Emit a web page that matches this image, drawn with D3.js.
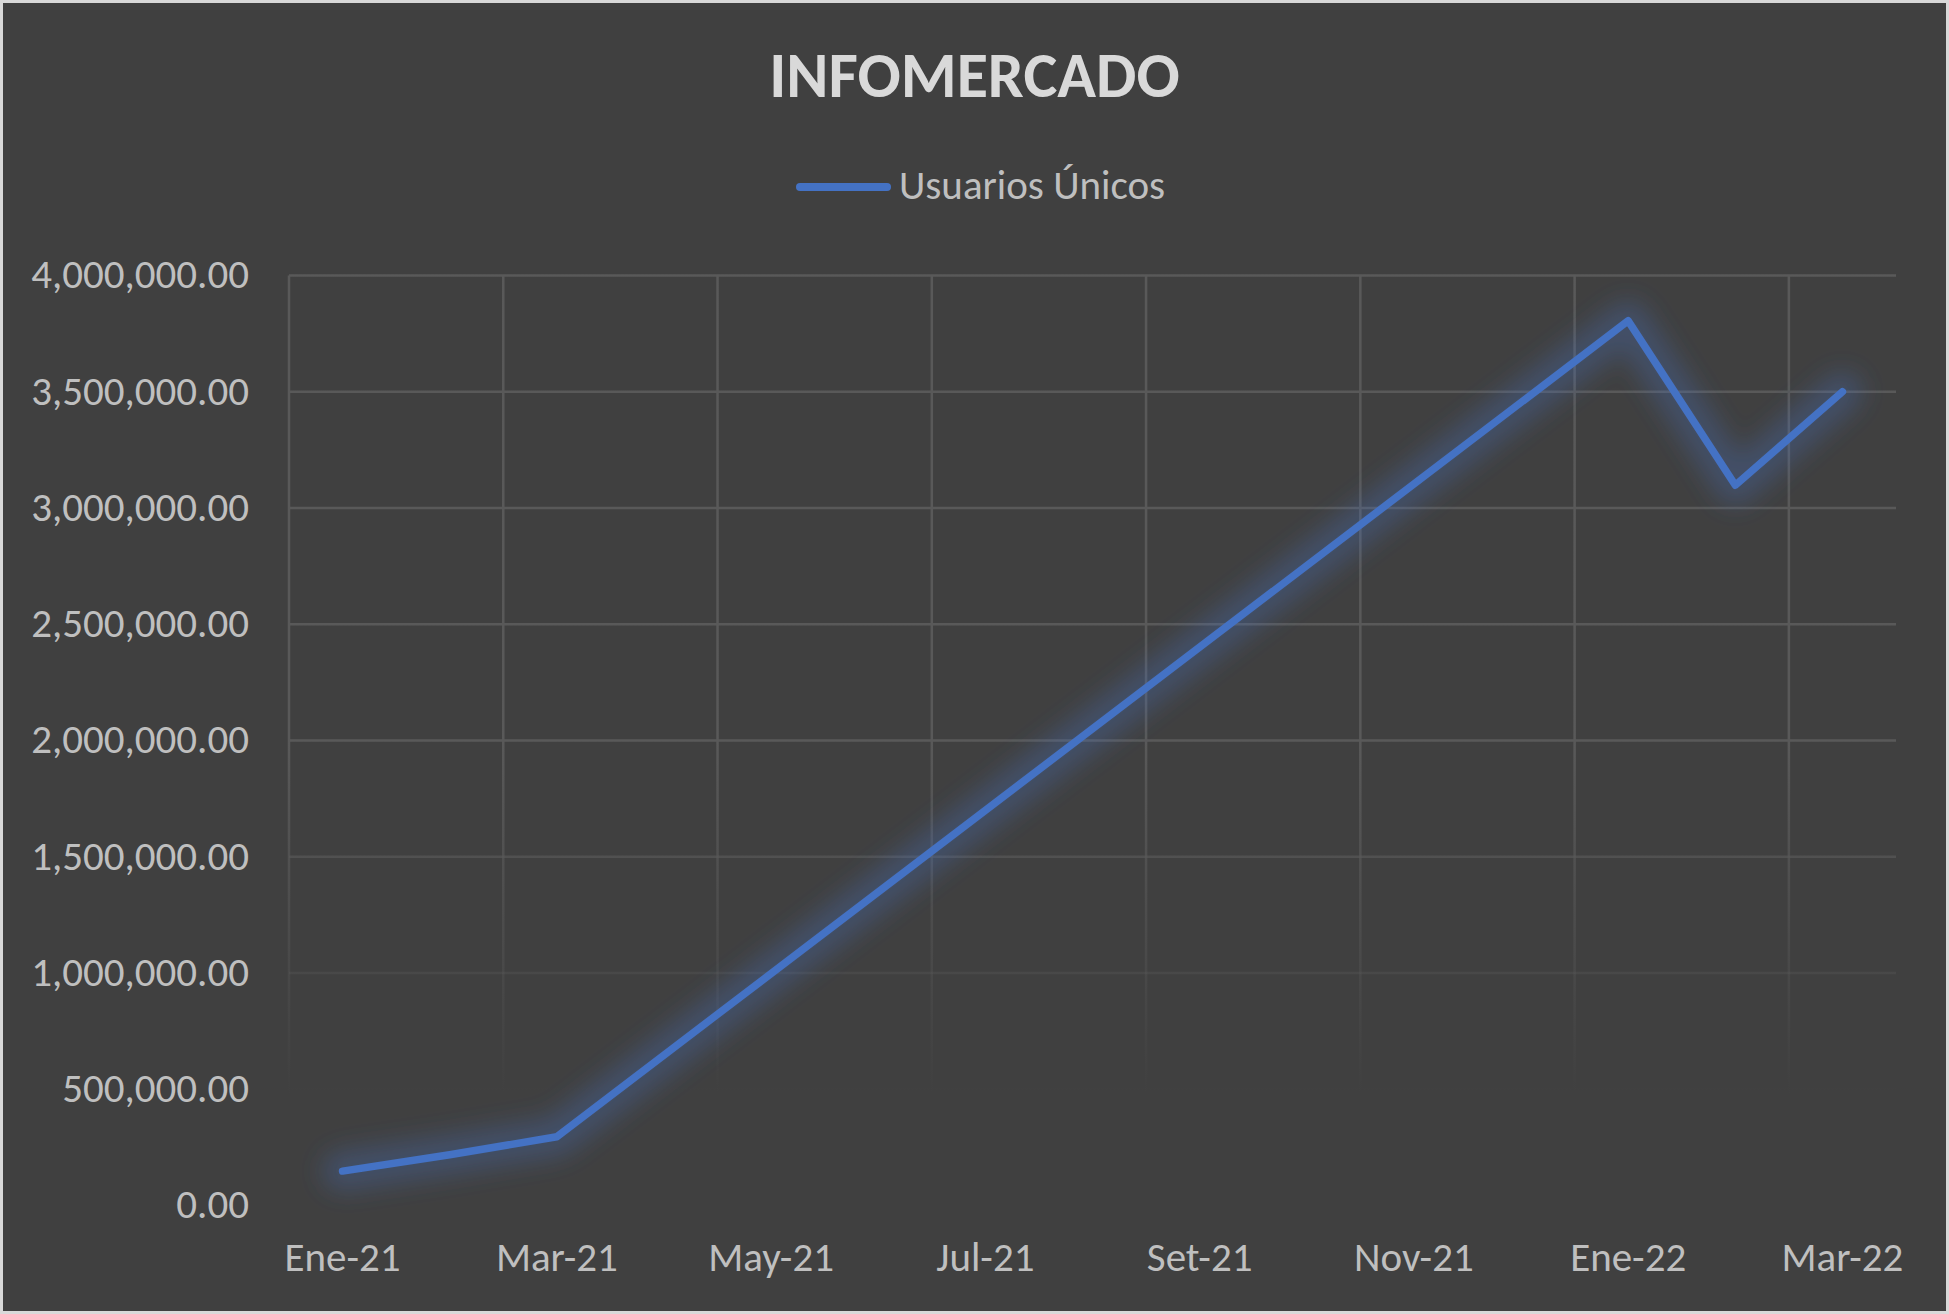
<!DOCTYPE html>
<html>
<head>
<meta charset="utf-8">
<script src="https://cdn.jsdelivr.net/npm/d3@7"></script>
<style>
    html, body { margin: 0; padding: 0; background: #d9d9d9; }
    svg { display: block; }
    text { font-family: Carlito, Calibri, Lato, "Open Sans", sans-serif; }
</style>
</head>
<body>
<svg id="chart" width="1949" height="1314"></svg>
<script>
// categories on the x axis (one per month)
const months = ["Ene-21", "Feb-21", "Mar-21", "Abr-21", "May-21", "Jun-21", "Jul-21", "Ago-21",
    "Set-21", "Oct-21", "Nov-21", "Dic-21", "Ene-22", "Feb-22", "Mar-22"];
// Usuarios Únicos, empty months are null (Excel just connects the points)
const usuarios = [148000, 218000, 296000, null, null, null, null, null,
    null, null, null, null, 3805000, 3098000, 3500000];
// y axis ticks
const yTicks = [0, 500000, 1000000, 1500000, 2000000, 2500000, 3000000, 3500000, 4000000];
const seriesName = "Usuarios Únicos";
const chartTitle = "INFOMERCADO";

let svg = d3.select('#chart'),
    width = +svg.attr("width"),
    height = +svg.attr("height");

// plot area
let plot = {left: 289, right: 1896, top: 275.5, bottom: 1205.5};

let defs = svg.append("defs");

// gridlines fade out towards the bottom
let grad = defs.append("linearGradient")
    .attr("id", "gridFade")
    .attr("gradientUnits", "userSpaceOnUse")
    .attr("x1", 0).attr("x2", 0)
    .attr("y1", plot.top).attr("y2", plot.bottom);
grad.append("stop").attr("offset", 0).attr("stop-color", "#595959").attr("stop-opacity", 1);
grad.append("stop").attr("offset", 0.5).attr("stop-color", "#595959").attr("stop-opacity", 1);
grad.append("stop").attr("offset", 0.88).attr("stop-color", "#595959").attr("stop-opacity", 0);
grad.append("stop").attr("offset", 1).attr("stop-color", "#595959").attr("stop-opacity", 0);

// soft glow round the line
defs.append("filter")
    .attr("id", "glow")
    .attr("x", "-20%").attr("y", "-20%")
    .attr("width", "140%").attr("height", "140%")
    .append("feGaussianBlur")
    .attr("stdDeviation", 12);

// chart background
svg.append("rect")
    .attr("x", 3).attr("y", 3)
    .attr("width", width - 6).attr("height", height - 6)
    .attr("fill", "#404040");

let xScale = d3.scaleBand()
    .domain(months)
    .range([plot.left, plot.right])
    .padding(0);

let yScale = d3.scaleLinear()
    .domain([0, 4000000])
    .range([plot.bottom, plot.top]);

// horizontal gridlines
svg.append("g").selectAll("line")
    .data(yTicks)
    .enter().append("line")
    .attr("x1", plot.left).attr("x2", plot.right)
    .attr("y1", d => yScale(d)).attr("y2", d => yScale(d))
    .attr("stroke", "url(#gridFade)")
    .attr("stroke-width", 2.5);

// vertical gridlines, every second month at the band edge
svg.append("g").selectAll("line")
    .data(months.filter((d, i) => i % 2 === 0))
    .enter().append("rect")
    .attr("x", d => xScale(d) - 1.25)
    .attr("y", plot.top)
    .attr("width", 2.5)
    .attr("height", plot.bottom - plot.top)
    .attr("fill", "url(#gridFade)");

// y axis labels
let yAxis = d3.axisLeft(yScale)
    .tickValues(yTicks)
    .tickFormat(d3.format(",.2f"))
    .tickSize(0)
    .tickPadding(40);
let yG = svg.append("g")
    .attr("transform", "translate(" + plot.left + ",0)")
    .call(yAxis);
yG.select(".domain").remove();
yG.selectAll("text")
    .attr("fill", "#bfbfbf")
    .attr("font-size", "41px")
    .attr("dy", "0.3em");

// x axis labels, every second month
let xAxis = d3.axisBottom(xScale)
    .tickValues(months.filter((d, i) => i % 2 === 0))
    .tickSize(0)
    .tickPadding(0);
let xG = svg.append("g")
    .attr("transform", "translate(0," + plot.bottom + ")")
    .call(xAxis);
xG.select(".domain").remove();
xG.selectAll("text")
    .attr("fill", "#bfbfbf")
    .attr("font-size", "41px")
    .attr("y", 65)
    .attr("dy", 0);

// the series: points joined across the empty months
let points = months.map((m, i) => ({month: m, value: usuarios[i]}))
    .filter(d => d.value !== null);

let line = d3.line()
    .x(d => xScale(d.month) + xScale.bandwidth() / 2)
    .y(d => yScale(d.value));

svg.append("path")
    .datum(points)
    .attr("d", line)
    .attr("fill", "none")
    .attr("stroke", "#4472c4")
    .attr("stroke-opacity", 0.3)
    .attr("stroke-width", 40)
    .attr("stroke-linejoin", "round")
    .attr("stroke-linecap", "round")
    .attr("filter", "url(#glow)");

svg.append("path")
    .datum(points)
    .attr("d", line)
    .attr("fill", "none")
    .attr("stroke", "#4472c4")
    .attr("stroke-width", 7.5)
    .attr("stroke-linejoin", "round")
    .attr("stroke-linecap", "round");

// title
svg.append("text")
    .attr("x", width / 2)
    .attr("y", 97)
    .attr("text-anchor", "middle")
    .attr("font-size", "64px")
    .attr("font-weight", "bold")
    .attr("fill", "#d9d9d9")
    .text(chartTitle);

// legend
let legend = svg.append("g");
legend.append("line")
    .attr("x1", 800).attr("x2", 887)
    .attr("y1", 187).attr("y2", 187)
    .attr("stroke", "#4472c4")
    .attr("stroke-width", 8)
    .attr("stroke-linecap", "round");
legend.append("text")
    .attr("x", 899)
    .attr("y", 199)
    .attr("font-size", "41px")
    .attr("fill", "#bfbfbf")
    .text(seriesName);
</script>
</body>
</html>
